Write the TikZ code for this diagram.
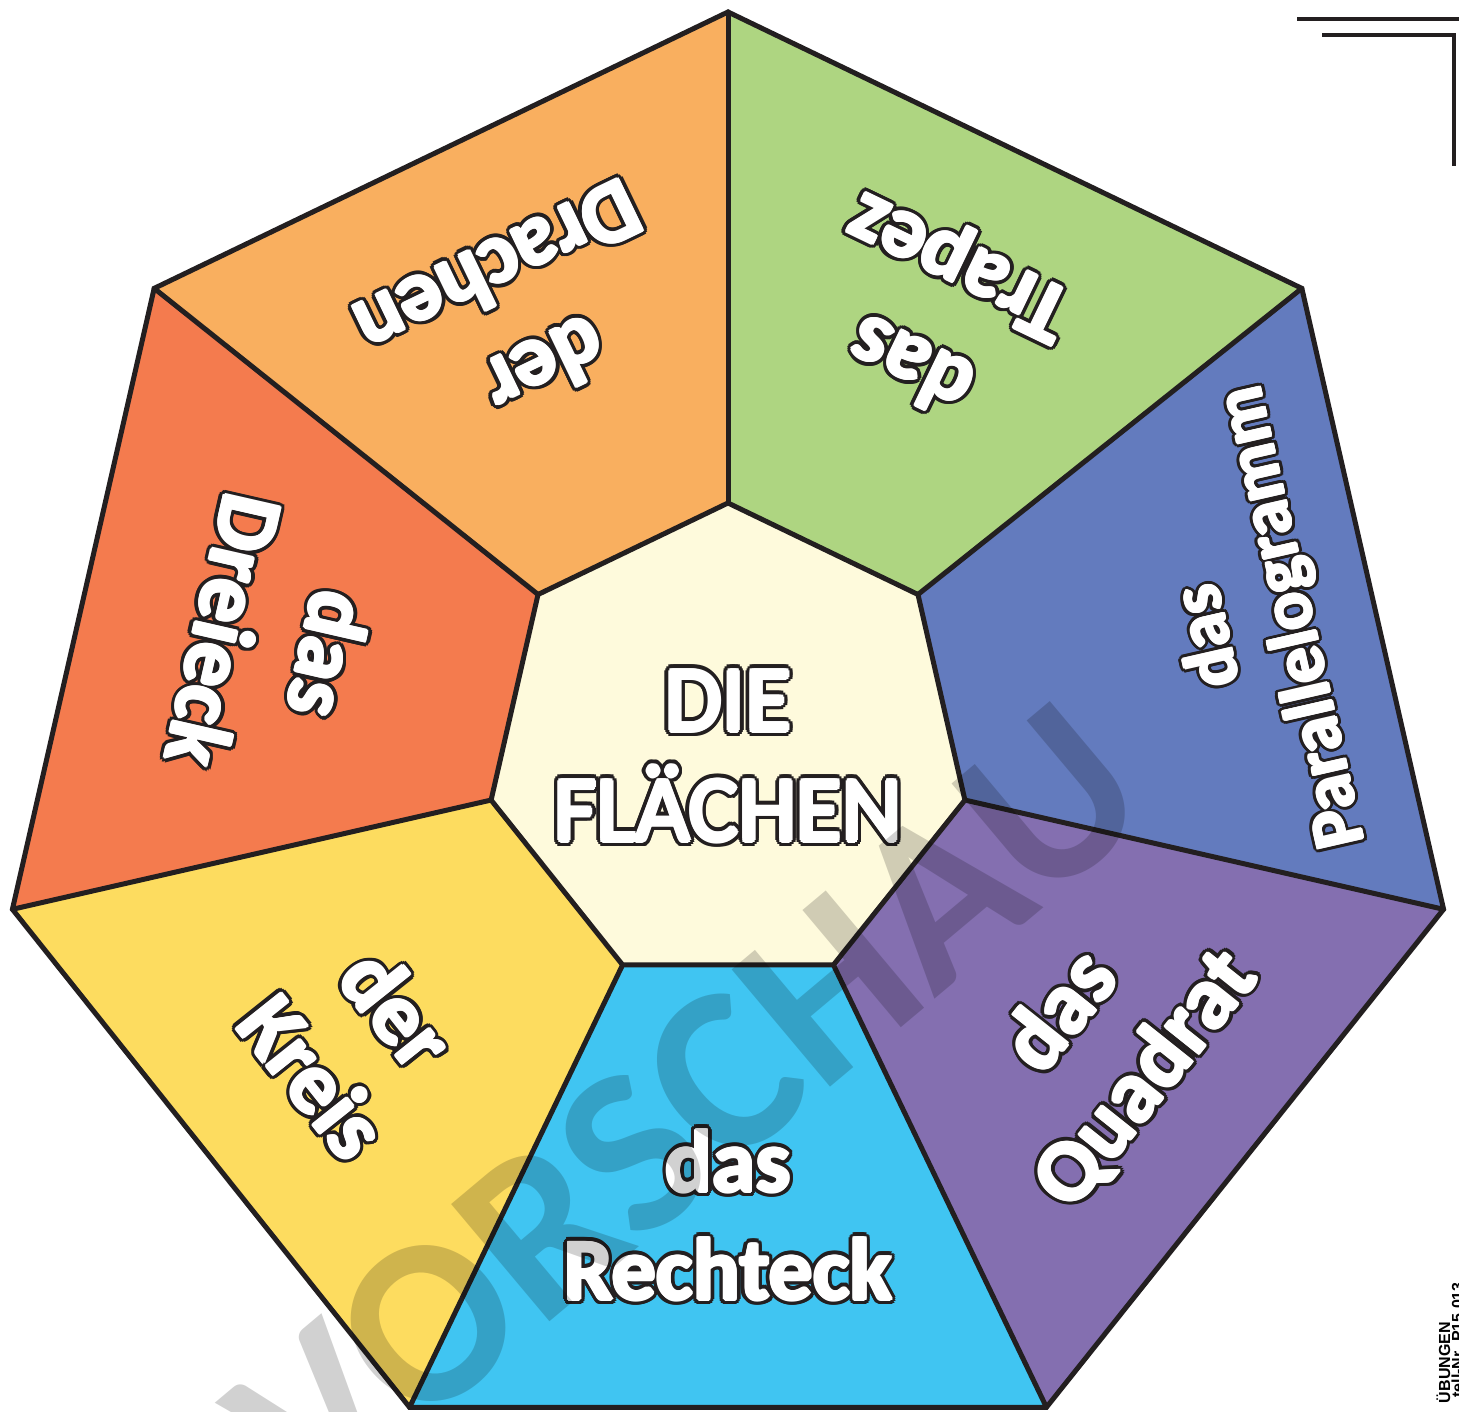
\documentclass[tikz,border=0pt]{standalone}
\usepackage{fontspec}
\setmainfont{Carlito}
\newfontfamily\smallsans{Liberation Sans}
\usetikzlibrary{calc}
\definecolor{olc}{HTML}{231F20}
\definecolor{cgreen}{HTML}{AED581}
\definecolor{cblue}{HTML}{637BBE}
\definecolor{cpurple}{HTML}{846FB0}
\definecolor{ccyan}{HTML}{40C5F2}
\definecolor{cyellow}{HTML}{FDDC5F}
\definecolor{cred}{HTML}{F47B4E}
\definecolor{corange}{HTML}{F9AF5F}
\definecolor{ccream}{HTML}{FEFADC}
\newsavebox\olbox
\newlength\olr
\newlength\olw
\setlength\olr{5pt}
\setlength\olw{1.5pt}
\newcommand\olcp[3]{\rlap{\kern#1#3\raisebox{#2#3}{\copy\olbox}}}
\newcommand\olt[1]{\setbox\olbox=\hbox{#1}%
 {\color{olc}%
  \olcp{1}{0}\olr\olcp{.924}{.383}\olr\olcp{.707}{.707}\olr\olcp{.383}{.924}\olr%
  \olcp{0}{1}\olr\olcp{-.383}{.924}\olr\olcp{-.707}{.707}\olr\olcp{-.924}{.383}\olr%
  \olcp{-1}{0}\olr\olcp{-.924}{-.383}\olr\olcp{-.707}{-.707}\olr\olcp{-.383}{-.924}\olr%
  \olcp{0}{-1}\olr\olcp{.383}{-.924}\olr\olcp{.707}{-.707}\olr\olcp{.924}{-.383}\olr}%
 \olcp{1}{0}\olw\olcp{.707}{.707}\olw\olcp{0}{1}\olw\olcp{-.707}{.707}\olw%
 \olcp{-1}{0}\olw\olcp{-.707}{-.707}\olw\olcp{0}{-1}\olw\olcp{.707}{-.707}\olw%
 \copy\olbox}
\begin{document}
\begin{tikzpicture}[x=1pt,y=1pt,
  edge/.style={draw=olc,line width=5pt,line join=miter},
  lab/.style={text=white,align=center,inner sep=0pt,
    font=\fontsize{88}{108}\selectfont\bfseries\setlength\olr{5pt}\setlength\olw{1.5pt}},
  smalllab/.style={lab,font=\fontsize{72}{86}\selectfont\bfseries\setlength\olr{4.2pt}\setlength\olw{1.2pt}},
  titlelab/.style={lab,font=\fontsize{93}{110}\selectfont\setlength\olr{6pt}\setlength\olw{2.5pt}},
  wmark/.style={text=black,text opacity=0.18,inner sep=0pt,font=\fontsize{236}{236}\selectfont\bfseries},
  cornerline/.style={draw=olc,line width=4pt},
  smalltxt/.style={text=black,inner sep=0pt,font=\smallsans\bfseries\fontsize{16}{18}\selectfont}]
\useasboundingbox (0,0) rectangle (1459,1411);
\fill[white] (0,0) rectangle (1459,1411);
\coordinate (C) at (728,665);
\foreach \i in {0,...,6} {
  \coordinate (O\i) at ($(C)+({90-51.4286*\i}:734)$);
  \coordinate (I\i) at ($(C)+({90-51.4286*\i}:243)$);
}
% segments
\fill[cgreen]  (I0) -- (O0) -- (O1) -- (I1) -- cycle;
\fill[cblue]   (I1) -- (O1) -- (O2) -- (I2) -- cycle;
\fill[cpurple] (I2) -- (O2) -- (O3) -- (I3) -- cycle;
\fill[ccyan]   (I3) -- (O3) -- (O4) -- (I4) -- cycle;
\fill[cyellow] (I4) -- (O4) -- (O5) -- (I5) -- cycle;
\fill[cred]    (I5) -- (O5) -- (O6) -- (I6) -- cycle;
\fill[corange] (I6) -- (O6) -- (O0) -- (I0) -- cycle;
\fill[ccream]  (I0) -- (I1) -- (I2) -- (I3) -- (I4) -- (I5) -- (I6) -- cycle;
% edges
\foreach \i in {0,...,6} { \draw[edge,line cap=round] (I\i) -- (O\i); }
\draw[edge] (O0) -- (O1) -- (O2) -- (O3) -- (O4) -- (O5) -- (O6) -- cycle;
\draw[edge] (I0) -- (I1) -- (I2) -- (I3) -- (I4) -- (I5) -- (I6) -- cycle;
% labels
\node[titlelab] (title) at (728,655) {\olt{DIE}\\\olt{FLÄCHEN}};
\node[lab,rotate=154.29] (trapez) at ($(C)+(64.29:480)$) {\olt{das}\\\olt{Trapez}};
\node[smalllab,rotate=102.86] (parallel) at ($(C)+(12.86:537)$) {\olt{das}\\\olt{Parallelogramm}};
\node[lab,rotate=51.43] (quadrat) at ($(C)+(-38.57:481)$) {\olt{das}\\\olt{Quadrat}};
\node[lab] (rechteck) at ($(C)+(-90:469)$) {\olt{das}\\\olt{Rechteck}};
\node[lab,rotate=-51.43] (kreis) at ($(C)+(-141.43:476)$) {\olt{der}\\\olt{Kreis}};
\node[lab,rotate=-102.86] (dreieck) at ($(C)+(167.14:462)$) {\olt{das}\\\olt{Dreieck}};
\node[lab,rotate=205.71] (drachen) at ($(C)+(115.71:474)$) {\olt{der}\\\olt{Drachen}};
% watermark
\node[wmark,rotate=40] (wm) at (687,304) {VORSCHAU};
% corner marks
\coordinate (ca) at (1297,1392);
\coordinate (cb) at (1459,1392);
\coordinate (cc) at (1322,1376);
\coordinate (cd) at (1453.5,1376);
\coordinate (ce) at (1453.5,1245);
\draw[cornerline] (ca) -- (cb);
\draw[cornerline] (cc) -- (cd) -- (ce);
% small rotated text
\node[smalltxt,rotate=90,anchor=base east] (sn1) at (1450,89) {ÜBUNGEN};
\node[smalltxt,rotate=90,anchor=base east] (sn2) at (1463,129) {tell-Nr. P15 013};
\end{tikzpicture}
\end{document}
